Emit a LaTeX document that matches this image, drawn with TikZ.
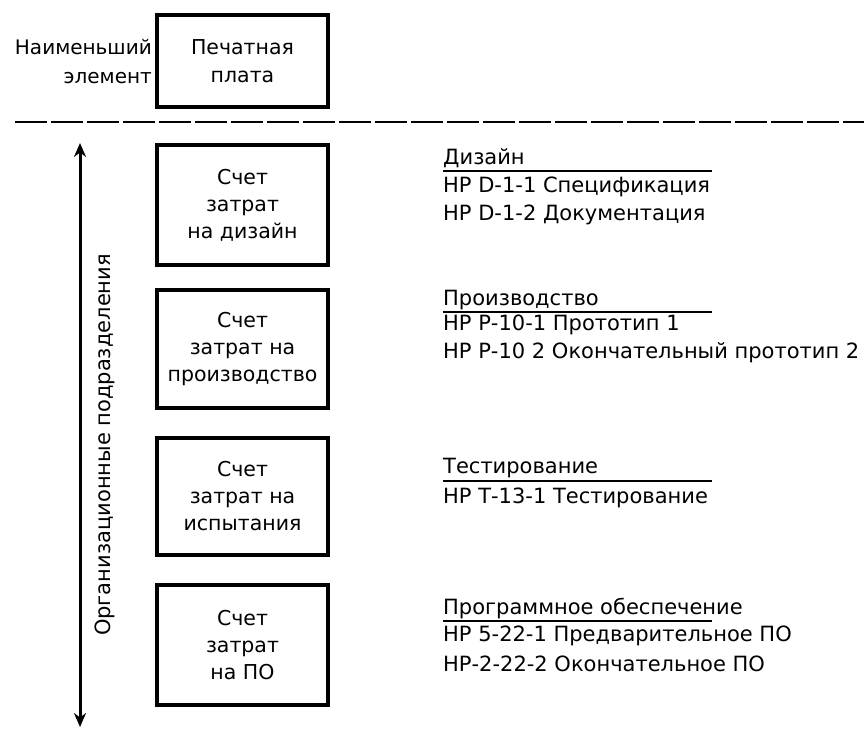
\documentclass[tikz,border=0pt]{standalone}
\usepackage{fontspec}
\setmainfont{DejaVu Sans}
\usetikzlibrary{arrows.meta}
\begin{document}
\begin{tikzpicture}[x=1pt,y=-1pt,
  box/.style={draw, line width=3.2pt, minimum width=171pt, align=center,
              font=\fontsize{20.5}{27}\selectfont, inner sep=0pt},
  lbl/.style={anchor=west, inner sep=0pt, font=\fontsize{21}{22}\selectfont},
  rule/.style={line width=2pt}]
\useasboundingbox (0,0) rectangle (864,733);

% smallest element
\node[box, minimum height=92pt, font=\fontsize{20.5}{28}\selectfont] (pcb) at (242.5,61) {Печатная\\плата};
\node[anchor=east, align=right, inner sep=0pt, font=\fontsize{20}{29}\selectfont] (least) at (152,62) {Наименьший\\элемент};

% separator
\draw[line width=2.4pt, dash pattern=on 32pt off 4pt] (15,122) -- (864,122);

% organisational units axis
\coordinate (ax1) at (80,143);
\coordinate (ax2) at (80,727);
\draw[line width=3pt, {Stealth[length=14pt,width=12pt]}-{Stealth[length=14pt,width=12pt]}] (ax1) -- (ax2);
\node[rotate=90, font=\fontsize{21}{22}\selectfont] (org) at (105,445) {Организационные подразделения};

% cost accounts
\node[box, minimum height=120pt] (b1) at (242.5,205) {Счет\\затрат\\на дизайн};
\node[box, minimum height=118pt] (b2) at (242.5,349) {Счет\\затрат на\\производство};
\node[box, minimum height=117pt] (b3) at (242.5,496.5) {Счет\\затрат на\\испытания};
\node[box, minimum height=120pt] (b4) at (242.5,645) {Счет\\затрат\\на ПО};

% work packages
\node[lbl] (t1) at (443,158) {Дизайн};
\draw[rule] (443,171) -- (712,171);
\node[lbl] (t1a) at (443,187) {НР D-1-1 Спецификация};
\node[lbl] (t1b) at (443,215) {НР D-1-2 Документация};

\node[lbl] (t2) at (443,300) {Производство};
\draw[rule] (443,312) -- (712,312);
\node[lbl] (t2a) at (443,325) {НР Р-10-1 Прототип 1};
\node[lbl] (t2b) at (443,353) {НР Р-10 2 Окончательный прототип 2};

\node[lbl] (t3) at (443,468) {Тестирование};
\draw[rule] (443,481) -- (712,481);
\node[lbl] (t3a) at (443,498) {НР Т-13-1 Тестирование};

\node[lbl] (t4) at (443,609) {Программное обеспечение};
\draw[rule] (443,621) -- (712,621);
\node[lbl] (t4a) at (443,636) {НР 5-22-1 Предварительное ПО};
\node[lbl] (t4b) at (443,664) {НР-2-22-2 Окончательное ПО};
\end{tikzpicture}
\end{document}
